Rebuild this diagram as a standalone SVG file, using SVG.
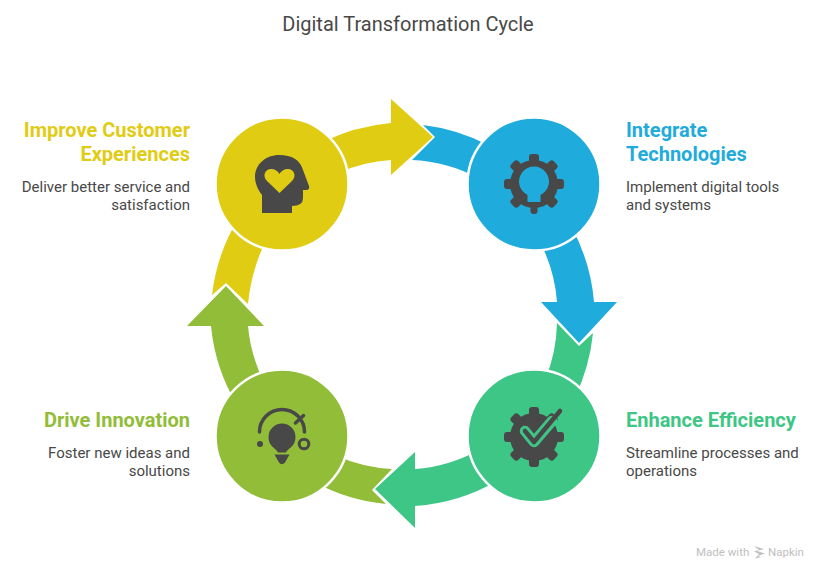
<svg xmlns="http://www.w3.org/2000/svg" width="828" height="579" viewBox="0 0 828 579">
<style>
text{font-family:Roboto,"Liberation Sans",sans-serif}
.title{font-size:20px;fill:#484848;text-anchor:middle}
.h{font-size:20px;font-weight:700}
.d{font-size:15px;fill:#484848}
.e{text-anchor:end}
.ring{stroke:#fff;stroke-width:2.5}
.ic{fill:#484848}
.ln{fill:none;stroke:#484848;stroke-linecap:round;stroke-linejoin:round}
.y{fill:#e1cc14}.b{fill:#1fabdb}.g{fill:#3ec686}.o{fill:#92bd39}
.wm{font-size:11.5px;fill:#c0c0c0}
</style>
<defs>
<rect id="tooth" class="ic" x="-5" y="-30" width="10" height="14" rx="3"/>
<g id="gear">
<circle r="24" class="ic"/>
<use href="#tooth"/>
<use href="#tooth" transform="rotate(45)"/>
<use href="#tooth" transform="rotate(90)"/>
<use href="#tooth" transform="rotate(135)"/>
<use href="#tooth" transform="rotate(225)"/>
<use href="#tooth" transform="rotate(270)"/>
<use href="#tooth" transform="rotate(315)"/>
</g>
</defs>
<rect width="828" height="579" fill="#fff"/>
<text class="title" x="408" y="31">Digital Transformation Cycle</text>
<g id="connectors">
<path id="arrow-yellow" class="y" d="M212 295L226 283L248 304A190 190 0 0 1 268 236L238 219A190 190 0 0 0 212 295ZM321 143A190 190 0 0 1 391 123V99L433 137L391 175V160A155 155 0 0 0 338 173Z"/>
<path id="arrow-blue" class="b" d="M423 125L435 137L412 160A155 155 0 0 1 478 178L490 146A190 190 0 0 0 423 125ZM571 226A190 190 0 0 1 594 302H617L579 343L541 302H557A155 155 0 0 0 540 242Z"/>
<path id="arrow-green" class="g" d="M557 323L579 346L593 333A190 190 0 0 1 575 397L545 380A155 155 0 0 0 557 323ZM497 481A190 190 0 0 1 415 506V528L375 489L415 452V469A155 155 0 0 0 479 450Z"/>
<path id="arrow-olive" class="o" d="M392 469L372 490L386 504A190 190 0 0 1 314 482L335 455A155 155 0 0 0 392 469ZM237 405A190 190 0 0 1 211 326H187L226 286L264 326H248A155 155 0 0 0 265 384Z"/>
</g>
<g id="node-improve">
<circle class="y ring" cx="282" cy="184" r="66.500"/>
<path class="ic" fill-rule="evenodd" d="M262 213V195C258 190 255 183 255 177C255 164 266 155 279 155C292 155 300 160 303 170L309 186Q310 190 306 190H303V198Q303 206 292 206V213ZM279.500 193L267 181C262 176 265 169 271 169C275 169 278 171 279.500 174C281 171 284 169 288 169C294 169 297 176 292 181Z"/>
<text class="h e y" x="190" y="137">Improve Customer</text>
<text class="h e y" x="190" y="161">Experiences</text>
<text class="d e" x="190" y="192">Deliver better service and</text>
<text class="d e" x="190" y="210">satisfaction</text>
</g>
<g id="node-integrate">
<circle class="b ring" cx="534" cy="184" r="66.500"/>
<g transform="translate(534 184)">
<use href="#gear"/>
<rect class="ic" x="-3.500" y="18" width="7" height="12" rx="3"/>
<path class="b" d="M-6.500 18V11A15 15 0 1 1 6.500 11V18Z" transform="translate(0 0)"/>
</g>
<text class="h b" x="626" y="137">Integrate</text>
<text class="h b" x="626" y="161">Technologies</text>
<text class="d" x="626" y="192">Implement digital tools</text>
<text class="d" x="626" y="210">and systems</text>
</g>
<g id="node-enhance">
<circle class="g ring" cx="534" cy="436" r="66.500"/>
<g transform="translate(534 437)">
<use href="#gear"/>
<use href="#tooth" transform="rotate(180)"/>
</g>
<path class="ln" style="stroke:#3ec686" stroke-width="10.500" d="M525 431L534 442L552 421"/>
<path class="ln" stroke-width="4.500" d="M525 431L534 442L560 411"/>
<text class="h g" x="626" y="427">Enhance Efficiency</text>
<text class="d" x="626" y="458">Streamline processes and</text>
<text class="d" x="626" y="476">operations</text>
</g>
<g id="node-innovation">
<circle class="o ring" cx="282" cy="436" r="66.500"/>
<path class="ln" stroke-width="3.500" d="M259.500 432A22.500 22.500 0 0 1 304.500 432M295.500 423L303.500 415.500"/>
<circle class="ic" cx="260" cy="444" r="3"/>
<circle cx="304" cy="444" r="4.800" fill="none" stroke="#484848" stroke-width="3"/>
<path class="ic" d="M278 452.500C276 448 268.500 447 268.500 437A13.500 13.500 0 0 1 295.500 437C295.500 447 288 448 286 452.500ZM274.500 454.500H289.500L285 462.500Q282 466 279 462.500Z"/>
<text class="h e o" x="190" y="427">Drive Innovation</text>
<text class="d e" x="190" y="458">Foster new ideas and</text>
<text class="d e" x="190" y="476">solutions</text>
</g>
<g id="watermark">
<text class="wm" x="696" y="556">Made with</text>
<path d="M754 546L764 549L757 551L765 553.500L758 556L761 557L755 558.500L759 554L754 551.500L759 550Z" fill="#c0c0c0"/>
<text class="wm" x="768" y="556">Napkin</text>
</g>
</svg>
